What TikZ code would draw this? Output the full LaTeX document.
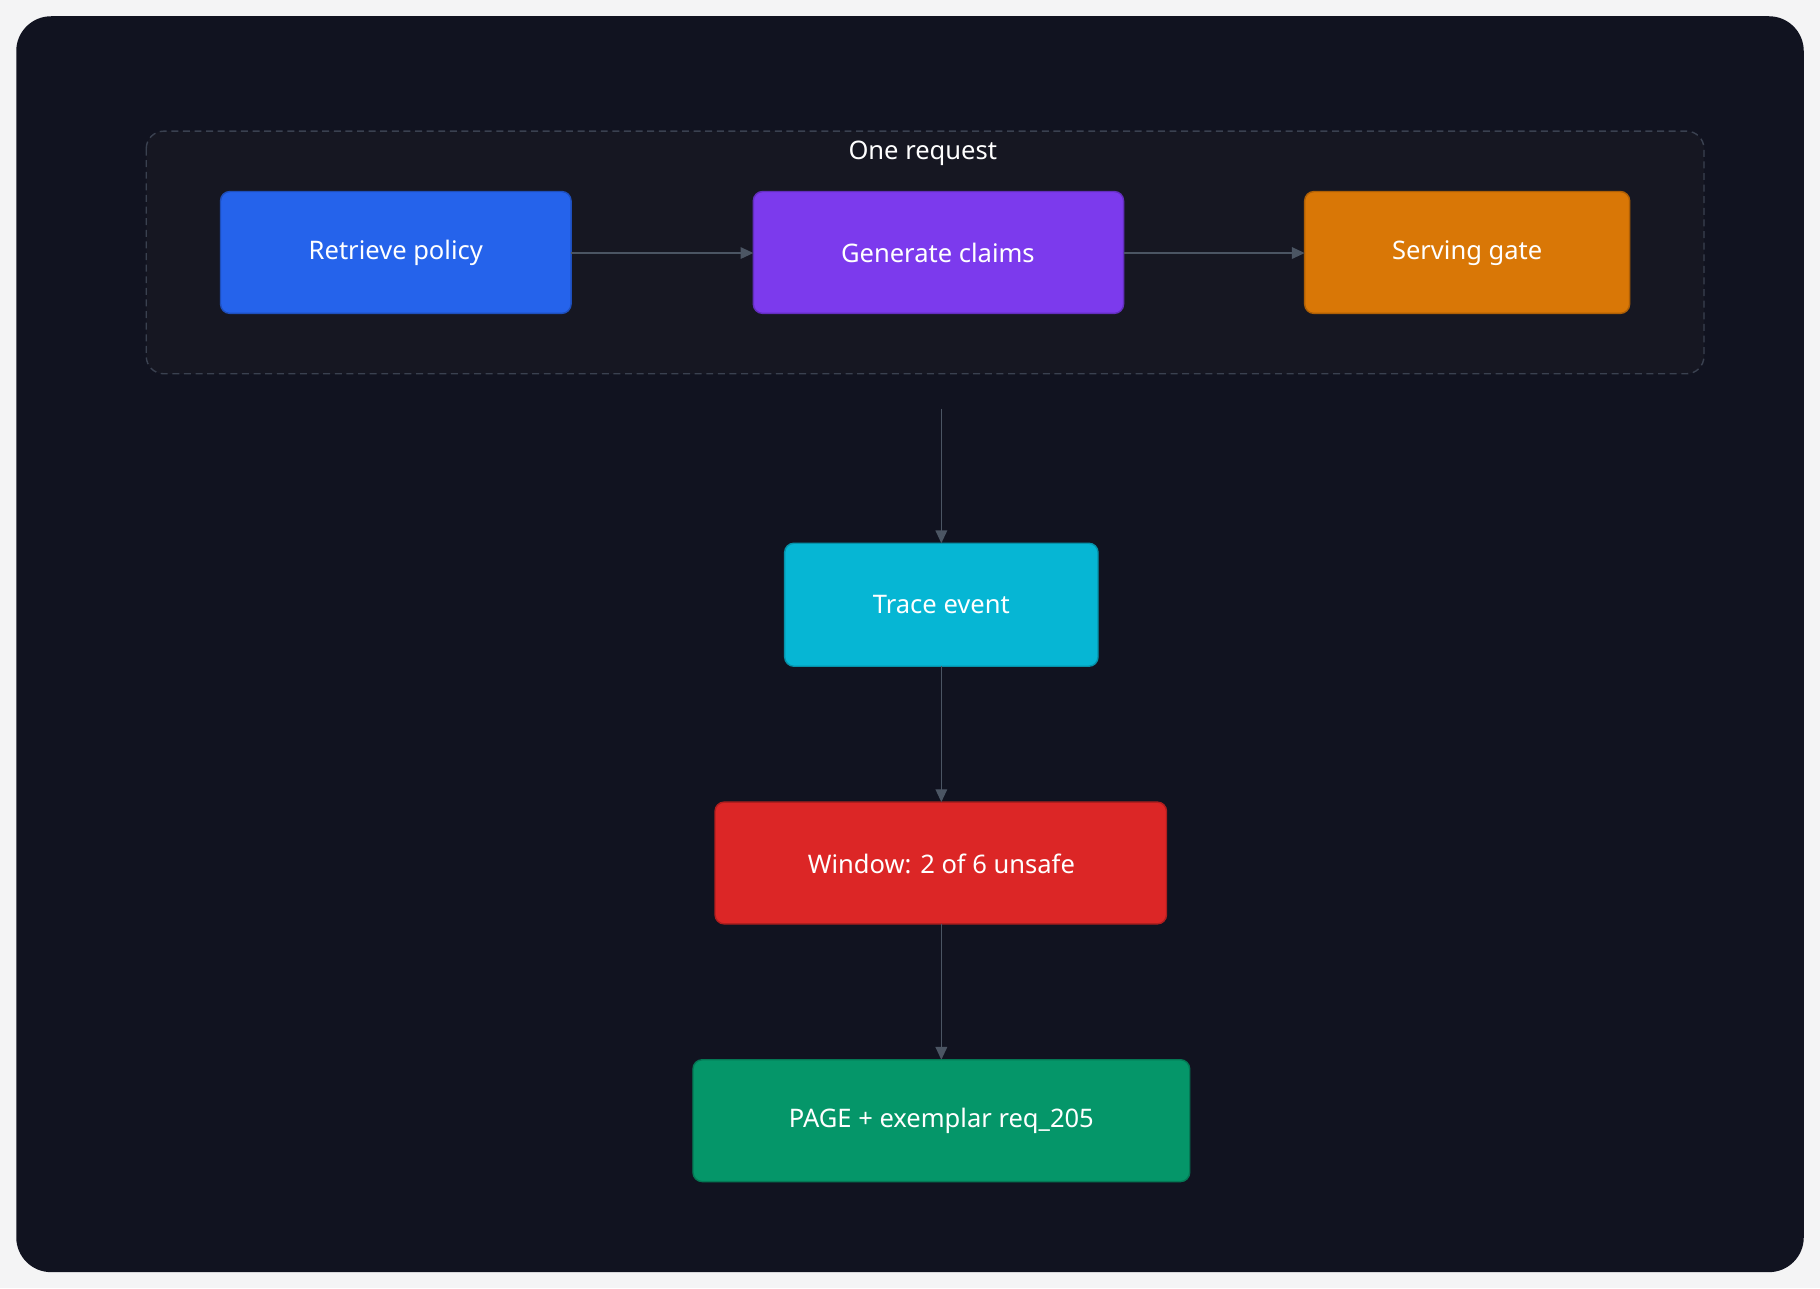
\documentclass[tikz,border=0pt]{standalone}
\usepackage{fontspec}
\setmainfont{Noto Sans}
\usetikzlibrary{arrows.meta}
\definecolor{bgout}{HTML}{F4F4F5}
\definecolor{bgin}{HTML}{111320}
\definecolor{grp}{HTML}{161722}
\definecolor{grpline}{HTML}{3A4150}
\definecolor{arr}{HTML}{4B5563}
\definecolor{cblue}{HTML}{2563EB}
\definecolor{cpurple}{HTML}{7C3AED}
\definecolor{corange}{HTML}{D97706}
\definecolor{ccyan}{HTML}{06B6D4}
\definecolor{cred}{HTML}{DC2626}
\definecolor{cgreen}{HTML}{059669}
\begin{document}
\begin{tikzpicture}[x=1pt,y=-1pt,
  box/.style={rounded corners=8pt,line width=1.2pt,text=white,font=\fontsize{22}{26}\selectfont},
  conn/.style={draw=arr,line width=1.2pt,-{Triangle[length=11pt,width=10pt]}}]
\useasboundingbox (0,0) rectangle (1568,1110);
\fill[bgout] (0,0) rectangle (1568,1110);
\fill[bgin,rounded corners=30pt] (14,14) rectangle (1554,1096);
\draw[grpline,fill=grp,dashed,line width=1.2pt,dash pattern=on 6pt off 4pt,rounded corners=15pt] (126,113) rectangle (1468,322);
\node[text=white,font=\bfseries\fontsize{22}{26}\selectfont] (lbl) at (795,132) {One request};
\path[box,fill=cblue,draw=cblue!80!black] (190,165) rectangle (492,270);
\node[text=white,font=\fontsize{22}{26}\selectfont] (rp) at (341,218) {Retrieve policy};
\coordinate (rpE) at (492,218);
\path[box,fill=cpurple,draw=cpurple!80!black] (649,165) rectangle (968,270);
\node[text=white,font=\fontsize{22}{26}\selectfont] (gc) at (808,218) {Generate claims};
\coordinate (gcW) at (649,218); \coordinate (gcE) at (968,218);
\path[box,fill=corange,draw=corange!80!black] (1124,165) rectangle (1404,270);
\node[text=white,font=\fontsize{22}{26}\selectfont] (sg) at (1264,218) {Serving gate};
\coordinate (sgW) at (1124,218);
\path[box,fill=ccyan,draw=ccyan!80!black] (676,468) rectangle (946,574);
\node[text=white,font=\fontsize{22}{26}\selectfont] (te) at (811,521) {Trace event};
\coordinate (teN) at (811,468); \coordinate (teS) at (811,574);
\path[box,fill=cred,draw=cred!80!black] (616,691) rectangle (1005,796);
\node[text=white,font=\fontsize{22}{26}\selectfont] (wi) at (811,744) {Window: 2 of 6 unsafe};
\coordinate (wiN) at (811,691); \coordinate (wiS) at (811,796);
\path[box,fill=cgreen,draw=cgreen!80!black] (597,913) rectangle (1025,1018);
\node[text=white,font=\fontsize{22}{26}\selectfont] (pg) at (811,966) {PAGE + exemplar req\_205};
\coordinate (pgN) at (811,913);
\coordinate (src) at (811,352);
\draw[conn] (rpE) -- (gcW);
\draw[conn] (gcE) -- (sgW);
\draw[conn] (src) -- (teN);
\draw[conn] (teS) -- (wiN);
\draw[conn] (wiS) -- (pgN);
\end{tikzpicture}
\end{document}
